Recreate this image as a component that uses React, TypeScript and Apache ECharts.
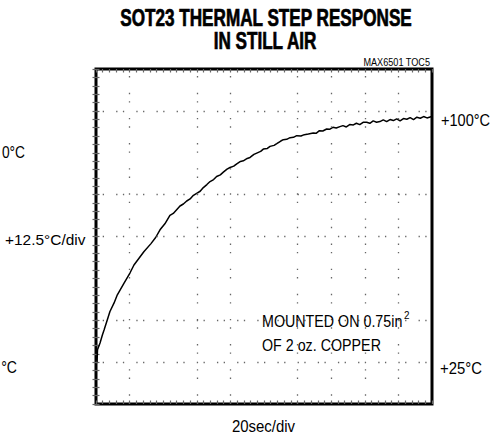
import React, { useEffect, useRef } from "react";
import * as echarts from "echarts";

// time in seconds (20 s/div), temperature in °C (12.5 °C/div)
const times = [0.6, 0.9, 2.4, 3.8, 4.8, 6.7, 8.3, 10.7, 12.7, 16.7, 20.2, 22.6, 25.6, 28.6, 32.6, 35.5, 38.1, 41, 44, 46, 48, 50, 52, 54, 56, 58, 59.9, 62, 63.9, 66, 67.9, 70, 71.8, 74, 75.8, 78, 79.8, 82, 83.8, 86, 87.7, 90, 91.7, 94, 95.7, 98, 99.6, 102, 103.6, 106, 107.6, 110, 111.5, 113.5, 115.5, 117.5, 119.5, 122, 124, 126.4, 129.3, 131, 133, 135, 137.3, 139, 141, 143, 145.2, 147, 149, 151, 153.2, 155, 157, 159, 161.1, 163, 165, 167, 169, 171, 173, 175, 177, 179, 181, 183, 185, 187, 189, 191, 193, 195, 197, 199.8];
const temps = [25, 28.7, 30.7, 33.1, 34.6, 37.6, 40.1, 42.6, 45.1, 48.6, 51.6, 54.0, 56.0, 58.0, 60.3, 62.2, 64.5, 66.3, 68.8, 69.4, 70.5, 71.6, 72.2, 73.1, 73.7, 74.8, 75.4, 76.0, 77.1, 78.0, 78.9, 79.5, 80.4, 80.9, 81.7, 82.6, 83.1, 83.5, 84.2, 84.9, 85.1, 85.8, 86.1, 87.0, 87.4, 87.9, 88.6, 88.8, 89.4, 89.7, 90.2, 91.0, 91.4, 91.5, 92.0, 92.1, 92.6, 92.5, 92.9, 93.1, 93.4, 93.3, 94.1, 94.0, 94.6, 94.5, 95.1, 94.9, 95.3, 95.6, 95.2, 95.9, 95.8, 96.3, 95.9, 96.6, 96.6, 96.3, 97.0, 96.6, 96.8, 97.3, 96.8, 97.4, 97.1, 97.6, 97.0, 97.7, 97.5, 98.0, 97.4, 98.1, 97.8, 98.3, 97.9, 98.3];

// graticule lines visible in the scan
const gridXLines = [20, 60, 80, 120, 140, 160, 180];
const gridYLines = [25, 37.5, 62.5, 75, 100];

const X_MIN = 0;
const X_MAX = 200;
const X_STEP = 20;
const Y_MIN = 12.5;
const Y_MAX = 112.5;
const Y_STEP = 12.5;

const titleLines = ["SOT23 THERMAL STEP RESPONSE", "IN STILL AIR"];
const partNote = "MAX6501 TOC5";
const topRightLabel = "+100°C";
const bottomRightLabel = "+25°C";
const leftCutTop = "0°C";
const leftCutBottom = "°C";
const scaleLabel = "+12.5°C/div";
const noteLine1 = "MOUNTED ON 0.75in";
const noteSup = "2";
const noteLine2 = "OF 2 oz. COPPER";
const xScaleLabel = "20sec/div";

const FONT = '"Liberation Sans", Arial, Helvetica, sans-serif';

function txt(
  text: string,
  x: number,
  y: number,
  size: number,
  sx: number,
  align: string,
  bold = false
) {
  return {
    type: "text",
    x,
    y,
    scaleX: sx,
    z: 10,
    style: {
      text,
      fontSize: size,
      fontFamily: FONT,
      fontWeight: bold ? "bold" : "normal",
      fill: "#000",
      stroke: bold ? "#000" : undefined,
      lineWidth: bold ? 0.7 : 0,
      align,
      textAlign: align,
      verticalAlign: "middle",
      textVerticalAlign: "middle",
    },
  };
}

const dotColor = "#666";

export default function App() {
  const ref = useRef<HTMLDivElement>(null);
  useEffect(() => {
    if (!ref.current) return;
    const chart = echarts.init(ref.current, undefined, { renderer: "svg" });
    const tickCommon = {
      axisLine: { show: false },
      axisLabel: { show: false },
      splitLine: { show: false },
      axisTick: { show: true, inside: true, length: 3.5, lineStyle: { color: dotColor, width: 1.2 } },
      minorTick: { show: true, splitNumber: 5, length: 3.5, lineStyle: { color: dotColor, width: 1.2 } },
    };
    chart.setOption({
      animation: false,
      backgroundColor: "#fff",
      grid: {
        left: 96,
        top: 69,
        width: 336,
        height: 335,
        show: true,
        borderColor: "#000",
        borderWidth: 3,
        backgroundColor: "transparent",
      },
      xAxis: [
        { type: "value", min: X_MIN, max: X_MAX, interval: X_STEP, position: "bottom", ...tickCommon },
        { type: "value", min: X_MIN, max: X_MAX, interval: X_STEP, position: "top", ...tickCommon },
      ],
      yAxis: [
        { type: "value", min: Y_MIN, max: Y_MAX, interval: Y_STEP, position: "left", ...tickCommon },
        { type: "value", min: Y_MIN, max: Y_MAX, interval: Y_STEP, position: "right", ...tickCommon },
      ],
      series: [
        {
          type: "line",
          data: [],
          z: 1,
          silent: true,
          markLine: {
            silent: true,
            symbol: ["none", "none"],
            label: { show: false },
            animation: false,
            data: [
              ...gridXLines.map((v) => ({
                xAxis: v,
                lineStyle: { type: [1.3, 7.075, 1.3, 15.45], color: dotColor, width: 1.3 },
              })),
              ...gridYLines.map((v) => ({
                yAxis: v,
                lineStyle: { type: [1.3, 5.42, 1.3, 12.14], color: dotColor, width: 1.3 },
              })),
            ],
          },
        },
        {
          type: "line",
          z: 3,
          showSymbol: false,
          symbol: "none",
          data: times.map((t, i) => [t, temps[i]]),
          lineStyle: { color: "#000", width: 1.5 },
        },
      ],
      graphic: [
        txt(titleLines[0], 266, 18.5, 23, 0.745, "center", true),
        txt(titleLines[1], 265, 41.5, 23, 0.745, "center", true),
        txt(partNote, 430, 62, 11, 0.83, "right"),
        txt(topRightLabel, 441, 120, 16, 0.91, "left"),
        txt(bottomRightLabel, 440, 368, 16, 0.93, "left"),
        txt(scaleLabel, 5, 240, 15, 1.03, "left"),
        txt(leftCutTop, 25, 152, 16, 0.86, "right"),
        txt(leftCutBottom, 17, 367, 16, 0.88, "right"),
        txt(noteLine1, 262, 321.5, 17, 0.84, "left"),
        txt(noteSup, 404, 315, 11, 0.9, "left"),
        txt(noteLine2, 262, 345, 17, 0.84, "left"),
        txt(xScaleLabel, 263.5, 426.5, 17, 0.88, "center"),
      ],
    });
    return () => chart.dispose();
  }, []);
  return (
    <div
      ref={ref}
      style={{ position: "fixed", left: 0, top: 0, width: 501, height: 440, background: "#fff" }}
    />
  );
}
